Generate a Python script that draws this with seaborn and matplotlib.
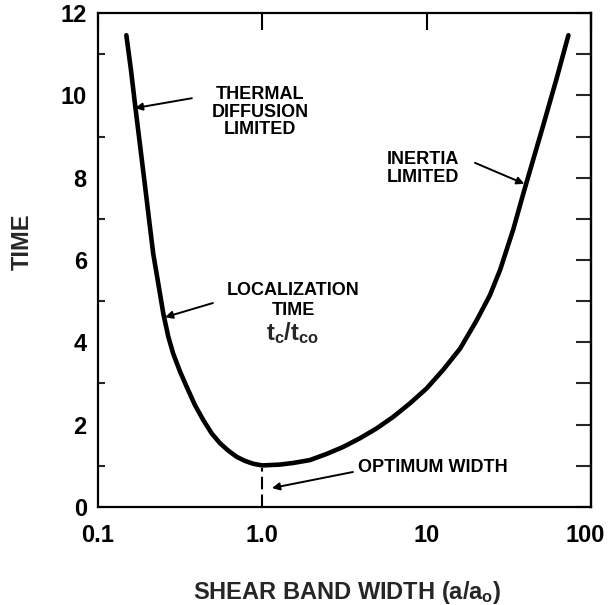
import matplotlib
matplotlib.use("Agg")
import matplotlib.pyplot as plt
import matplotlib.transforms as mtransforms
import seaborn as sns
import pandas as pd

# Localization time versus shear band width
band_width = [0.149, 0.159, 0.1694, 0.181, 0.1938, 0.205, 0.217, 0.233, 0.250, 0.268,
              0.287, 0.316, 0.347, 0.389, 0.438, 0.492, 0.553, 0.621, 0.698, 0.785,
              0.881, 1.0, 1.28, 1.545, 1.95, 2.47, 3.11, 3.93, 4.97, 6.27,
              7.93, 10.0, 12.6, 16.0, 20.2, 24.3, 28.0, 33.7, 38.8, 44.6,
              51.3, 61.9, 72.9]
loc_time = [11.46, 10.61, 9.68, 8.75, 7.78, 6.97, 6.16, 5.43, 4.70, 4.14,
            3.73, 3.29, 2.92, 2.48, 2.11, 1.79, 1.55, 1.37, 1.22, 1.12,
            1.05, 1.01, 1.03, 1.07, 1.14, 1.29, 1.46, 1.67, 1.91, 2.19,
            2.52, 2.88, 3.33, 3.85, 4.54, 5.15, 5.76, 6.75, 7.62, 8.45,
            9.28, 10.42, 11.46]

x_ticks = [0.1, 1.0, 10, 100]
x_tick_labels = ["0.1", "1.0", "10", "100"]
y_ticks = [0, 2, 4, 6, 8, 10, 12]

optimum_width = 1.0
optimum_time = 1.0

sns.set_style("white")
plt.rcParams["font.family"] = ["Liberation Sans", "DejaVu Sans"]
plt.rcParams["font.weight"] = "bold"
plt.rcParams["mathtext.fontset"] = "custom"
plt.rcParams["mathtext.rm"] = "Liberation Sans:bold"
plt.rcParams["mathtext.it"] = "Liberation Sans:bold"
plt.rcParams["mathtext.bf"] = "Liberation Sans:bold"

df = pd.DataFrame({"width": band_width, "time": loc_time})

fig = plt.figure(figsize=(6.08, 6.05), dpi=100)
ax = fig.add_axes([0.161, 0.162, 0.811, 0.8165])

sns.lineplot(data=df, x="width", y="time", ax=ax, color="black", lw=3.3,
             estimator=None, sort=False)
ax.lines[0].set_solid_joinstyle("round")
ax.lines[0].set_solid_capstyle("round")

# optimum width marker
ax.plot([optimum_width, optimum_width], [0, optimum_time - 0.05], color="black",
        lw=1.5, ls=(0, (6, 2.5)))

ax.set_xscale("log")
ax.set_xlim(0.1, 100)
ax.set_ylim(0, 12)
ax.set_xticks(x_ticks)
ax.set_xticklabels(x_tick_labels)
ax.xaxis.set_minor_locator(matplotlib.ticker.NullLocator())
ax.set_yticks(y_ticks)
ax.set_yticks([1, 3, 5, 7, 9, 11], minor=True)

for s in ax.spines.values():
    s.set_linewidth(1.6)
    s.set_color("black")

ax.tick_params(axis="both", which="major", direction="in", length=12, width=1.5,
               labelsize=17, colors="black", pad=8)
ax.tick_params(axis="x", which="major", top=True, length=12, pad=12)
ax.tick_params(axis="y", which="minor", direction="in", length=5, width=1.5,
               left=True)
for lab in ax.get_xticklabels() + ax.get_yticklabels():
    lab.set_fontweight("bold")
# pull the last decade label slightly inward
last = ax.get_xticklabels()[-1]
last.set_transform(last.get_transform() +
                   mtransforms.ScaledTranslation(-6 / 100, 0, fig.dpi_scale_trans))

# right-hand ticks at every integer
sec = ax.secondary_yaxis("right")
sec.set_yticks(list(range(0, 13)))
sec.tick_params(direction="in", length=11, width=1.5, labelright=False)
sec.spines["right"].set_linewidth(1.6)

ax.set_xlabel("SHEAR BAND WIDTH (a/a$_\\mathregular{o}$)", fontsize=17,
              fontweight="bold")
ax.set_ylabel("TIME", fontsize=17, fontweight="bold")
ax.xaxis.set_label_coords(0.505, -0.145)
ax.yaxis.set_label_coords(-0.13, 0.536)

arrow = dict(arrowstyle="-|>", lw=1.4, color="black", mutation_scale=11,
             shrinkA=0, shrinkB=0)
tfont = dict(fontsize=13, fontweight="bold", color="black")

ax.text(0.968, 9.59, "THERMAL\nDIFFUSION\nLIMITED", ha="center", va="center",
        linespacing=1.05, **tfont)
ax.annotate("", xy=(0.168, 9.69), xytext=(0.373, 9.93), arrowprops=arrow)

ax.text(1.54, 5.27, "LOCALIZATION", ha="center", va="center", **tfont)
ax.text(1.54, 4.78, "TIME", ha="center", va="center", **tfont)
ax.text(1.54, 4.22, "$\\mathregular{t_c/t_{co}}$", ha="center", va="center",
        fontsize=17, fontweight="bold")
ax.annotate("", xy=(0.256, 4.61), xytext=(0.501, 4.955), arrowprops=arrow)

ax.text(3.82, 0.95, "OPTIMUM WIDTH", ha="left", va="center", **tfont)
ax.annotate("", xy=(1.146, 0.46), xytext=(3.56, 0.85), arrowprops=arrow)

ax.text(9.51, 8.22, "INERTIA\nLIMITED", ha="center", va="center",
        linespacing=1.05, **tfont)
ax.annotate("", xy=(39.3, 7.85), xytext=(19.7, 8.36), arrowprops=arrow)

fig.savefig("out.png", dpi=100)
